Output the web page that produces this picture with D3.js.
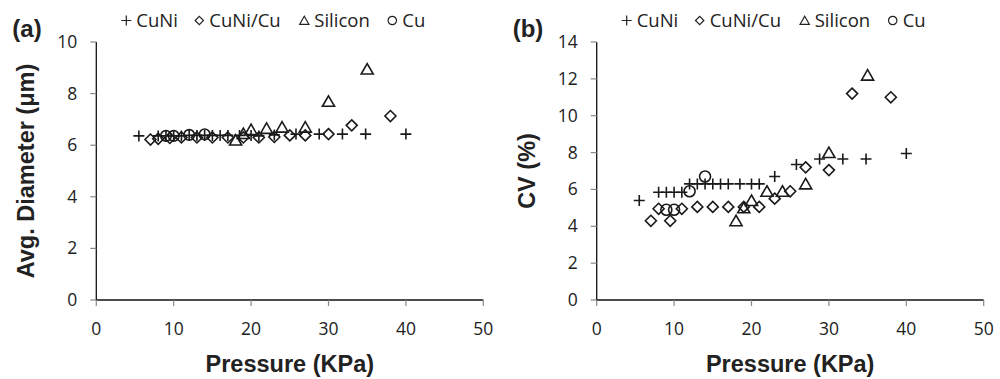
<!DOCTYPE html>
<html lang="en">
<head>
<meta charset="utf-8">
<title>Pressure vs Avg. Diameter and CV</title>
<style>
  body { margin: 0; background: #fff; }
  svg { display: block; }
  .tick-label { font-family: "Open Sans", sans-serif; font-size: 17.5px; fill: #222; }
  .legend-text { font-family: "Open Sans", sans-serif; font-size: 18.5px; fill: #222; }
  .axis-title { font-family: "Liberation Sans", Arial, sans-serif; font-size: 23.5px; font-weight: bold; fill: #222; }
  .panel-label { font-family: "Liberation Sans", Arial, sans-serif; font-size: 24px; font-weight: bold; fill: #222; }
</style>
</head>
<body>
<svg id="chart" width="1000" height="379"></svg>
<script src="https://d3js.org/d3.v7.min.js"></script>
<script>
// ---- data ----
const pressureCuNi = [5.5, 8, 9, 10, 11, 12, 13, 14, 15, 16, 17, 18.5, 20, 21, 23, 25.8, 28.8, 31.8, 34.8, 40];
const diameterCuNi = [6.36, 6.36, 6.36, 6.36, 6.36, 6.38, 6.38, 6.38, 6.38, 6.38, 6.38, 6.38, 6.38, 6.36, 6.4, 6.43, 6.43, 6.43, 6.43, 6.43];
const cvCuNi = [5.4, 5.85, 5.85, 5.85, 5.85, 6.3, 6.3, 6.3, 6.3, 6.3, 6.3, 6.3, 6.3, 6.3, 6.7, 7.35, 7.65, 7.65, 7.65, 7.95];

const pressureCuNiCu = [7, 8, 9.5, 11, 13, 15, 17, 19, 21, 23, 25, 27, 30, 33, 38];
const diameterCuNiCu = [6.22, 6.25, 6.28, 6.3, 6.3, 6.3, 6.3, 6.3, 6.3, 6.32, 6.38, 6.38, 6.43, 6.77, 7.13];
const cvCuNiCu = [4.3, 4.95, 4.3, 4.95, 5.05, 5.05, 5.05, 5.05, 5.05, 5.5, 5.9, 7.2, 7.05, 11.2, 11.0];

const pressureSilicon = [18, 19, 20, 22, 24, 27, 30, 35];
const diameterSilicon = [6.2, 6.45, 6.6, 6.65, 6.7, 6.7, 7.7, 8.95];
const cvSilicon = [4.3, 5.0, 5.4, 5.9, 5.9, 6.3, 8.0, 12.2];

const pressureCu = [9, 10, 12, 14];
const diameterCu = [6.36, 6.36, 6.4, 6.42];
const cvCu = [4.9, 4.9, 5.9, 6.7];

const xTicks = [0, 10, 20, 30, 40, 50];
const yTicksA = [0, 2, 4, 6, 8, 10];
const yTicksB = [0, 2, 4, 6, 8, 10, 12, 14];
const legendNames = ["CuNi", "CuNi/Cu", "Silicon", "Cu"];

const svg = d3.select("#chart");

// marker path builders (centered on 0,0)
const markers = {
  plus: s => `M${-s},0H${s}M0,${-s}V${s}`,
  diamond: s => `M0,${-s}L${s},0L0,${s}L${-s},0Z`,
  triangle: s => `M0,${-s}L${s * 1.1},${s * 0.9}L${-s * 1.1},${s * 0.9}Z`,
  circle: s => `M${s},0A${s},${s} 0 1,1 ${-s},0A${s},${s} 0 1,1 ${s},0Z`
};
const markerKeys = ["plus", "diamond", "triangle", "circle"];

function drawPanel(opt) {
  const g = svg.append("g");
  const x = d3.scaleLinear().domain([0, 50]).range([opt.left, opt.left + 387]);
  const y = d3.scaleLinear().domain([0, opt.yMax]).range([300, 42]);

  // y axis
  g.append("line")
    .attr("x1", x(0)).attr("x2", x(0))
    .attr("y1", y(0)).attr("y2", y(opt.yMax))
    .attr("stroke", "#111").attr("stroke-width", 1.3);
  g.selectAll(".ytick").data(opt.yTicks).enter().append("line")
    .attr("x1", x(0) - 6).attr("x2", x(0))
    .attr("y1", d => y(d)).attr("y2", d => y(d))
    .attr("stroke", "#888").attr("stroke-width", 1.2);
  g.selectAll(".ylab").data(opt.yTicks).enter().append("text")
    .attr("class", "tick-label")
    .attr("x", x(0) - 19)
    .attr("y", d => y(d) + 6)
    .attr("text-anchor", "end")
    .text(d => d);

  // x axis
  g.append("line")
    .attr("x1", x(0)).attr("x2", x(50))
    .attr("y1", y(0)).attr("y2", y(0))
    .attr("stroke", "#111").attr("stroke-width", 1.3);
  g.selectAll(".xtick").data(xTicks).enter().append("line")
    .attr("x1", d => x(d)).attr("x2", d => x(d))
    .attr("y1", y(0)).attr("y2", y(0) + 6)
    .attr("stroke", "#888").attr("stroke-width", 1.2);
  g.selectAll(".xlab").data(xTicks).enter().append("text")
    .attr("class", "tick-label")
    .attr("x", d => x(d))
    .attr("y", 335)
    .attr("text-anchor", "middle")
    .text(d => d);

  // titles
  g.append("text").attr("class", "axis-title")
    .attr("x", (x(0) + x(50)) / 2).attr("y", 372)
    .attr("text-anchor", "middle")
    .text("Pressure (KPa)");
  g.append("text").attr("class", "axis-title")
    .attr("transform", `translate(${opt.left - 62},171) rotate(-90)`)
    .attr("text-anchor", "middle")
    .text(opt.yTitle);
  g.append("text").attr("class", "panel-label")
    .attr("x", opt.left - 84).attr("y", 37)
    .text(opt.label);

  // series
  opt.series.forEach((s, i) => {
    const pts = s.px.map((p, j) => [p, s.py[j]]);
    g.selectAll(".m" + i).data(pts).enter().append("path")
      .attr("d", markers[markerKeys[i]](s.size))
      .attr("transform", d => `translate(${x(d[0])},${y(d[1])})`)
      .attr("fill", "none")
      .attr("stroke", "#1a1a1a")
      .attr("stroke-width", 1.6);
  });

  // legend
  const legX = [opt.left + 30, opt.left + 103, opt.left + 208, opt.left + 296];
  const lg = g.append("g");
  legendNames.forEach((name, i) => {
    lg.append("path")
      .attr("d", markers[markerKeys[i]](i === 0 ? 5 : 4.2))
      .attr("transform", `translate(${legX[i]},20.5)`)
      .attr("fill", "none")
      .attr("stroke", "#222")
      .attr("stroke-width", 1.2);
    lg.append("text").attr("class", "legend-text")
      .attr("x", legX[i] + 10).attr("y", 27)
      .text(name);
  });
}

drawPanel({
  left: 96.3, yMax: 10, yTicks: yTicksA, yTitle: "Avg. Diameter (\u03bcm)", label: "(a)",
  series: [
    { px: pressureCuNi, py: diameterCuNi, size: 5.5 },
    { px: pressureCuNiCu, py: diameterCuNiCu, size: 5.5 },
    { px: pressureSilicon, py: diameterSilicon, size: 5.5 },
    { px: pressureCu, py: diameterCu, size: 5.3 }
  ]
});

drawPanel({
  left: 596.7, yMax: 14, yTicks: yTicksB, yTitle: "CV (%)", label: "(b)",
  series: [
    { px: pressureCuNi, py: cvCuNi, size: 5.5 },
    { px: pressureCuNiCu, py: cvCuNiCu, size: 5.5 },
    { px: pressureSilicon, py: cvSilicon, size: 5.5 },
    { px: pressureCu, py: cvCu, size: 5.5 }
  ]
});
</script>
</body>
</html>
